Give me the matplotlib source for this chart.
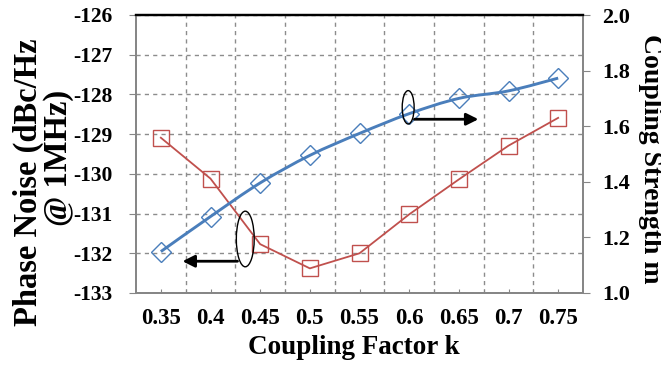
import numpy as np
import matplotlib
matplotlib.use("Agg")
import matplotlib.pyplot as plt
from matplotlib.path import Path
from matplotlib.patches import PathPatch, Ellipse

k_labels = ["0.35", "0.4", "0.45", "0.5", "0.55", "0.6", "0.65", "0.7", "0.75"]
phase_noise = [-129.09, -130.12, -131.77, -132.38, -132.0, -131.02, -130.14, -129.29, -128.59]
coupling_m = [1.149, 1.275, 1.396, 1.495, 1.574, 1.645, 1.70, 1.727, 1.773]

RED = "#C0504D"
BLUE = "#4A7EBB"
GRID = "#8C8C8C"
SP = "#868686"

plt.rcParams['font.family'] = ['Liberation Serif', 'DejaVu Serif']
plt.rcParams['font.weight'] = 'bold'

fig = plt.figure(figsize=(6.61, 3.66), dpi=100)
ax = fig.add_axes([136/661, 1-293/366, (583-136)/661, (293-15)/366])
ax2 = ax.twinx()

x = np.arange(len(k_labels))
ax.set_xlim(-0.5, len(k_labels)-0.5)
ax.set_ylim(-133, -126)
ax2.set_ylim(1.0, 2.0)

ax.set_xticks(x)
ax.set_xticks(np.arange(0.5, len(k_labels)-1, 1.0), minor=True)
ax.set_xticklabels(k_labels, fontsize=16.5, fontweight='bold')
ax.set_yticks(np.arange(-133, -125, 1))
ax.set_yticklabels([str(v) for v in range(-133, -125)], fontsize=15.5, fontweight='bold')
ax2.set_yticks(np.arange(1.0, 2.01, 0.2))
ax2.set_yticklabels([f"{v:.1f}" for v in np.arange(1.0, 2.01, 0.2)], fontsize=16, fontweight='bold')

ax.grid(False)
ax.xaxis.grid(True, which='minor', color=GRID, linestyle=(0, (3, 3)), linewidth=1)
ax.yaxis.grid(True, which='major', color=GRID, linestyle=(0, (3, 3)), linewidth=1)
ax.set_axisbelow(True)

ax.tick_params(axis='x', which='major', direction='in', length=3, color=SP, pad=11)
ax.tick_params(axis='x', which='minor', direction='in', length=3, color=SP)
ax.tick_params(axis='y', direction='out', length=5, color=SP, pad=12)
ax2.tick_params(axis='y', direction='out', length=5, color=SP, pad=9)

for s in ['left', 'bottom', 'right']:
    ax.spines[s].set_color(SP)
    ax.spines[s].set_linewidth(1.3)
    ax2.spines[s].set_color(SP)
    ax2.spines[s].set_linewidth(1.3)
ax.spines['top'].set_color('black')
ax.spines['top'].set_linewidth(1.6)
ax2.spines['top'].set_color('black')
ax2.spines['top'].set_linewidth(1.6)

# red line (phase noise, left axis)
ax.plot(x, phase_noise, color=RED, linewidth=1.3, marker='s', markersize=11,
        markerfacecolor='none', markeredgecolor=RED, markeredgewidth=1.0, zorder=3)

# blue smoothed line (coupling strength, right axis)
xs = list(x.astype(float))
ys = list(coupling_m)
verts = [(xs[0], ys[0])]
codes = [Path.MOVETO]
n = len(xs)
for i in range(n-1):
    p0 = (xs[i-1], ys[i-1]) if i > 0 else (xs[i], ys[i])
    p1 = (xs[i], ys[i])
    p2 = (xs[i+1], ys[i+1])
    p3 = (xs[i+2], ys[i+2]) if i+2 < n else (xs[i+1], ys[i+1])
    c1 = (p1[0] + (p2[0]-p0[0])/6, p1[1] + (p2[1]-p0[1])/6)
    c2 = (p2[0] - (p3[0]-p1[0])/6, p2[1] - (p3[1]-p1[1])/6)
    verts += [c1, c2, p2]
    codes += [Path.CURVE4]*3
ax2.add_patch(PathPatch(Path(verts, codes), facecolor='none', edgecolor=BLUE, linewidth=2.1, zorder=3))
ax2.plot(x, coupling_m, linestyle='none', marker='D', markersize=10.5,
         markerfacecolor='none', markeredgecolor=BLUE, markeredgewidth=1.0, zorder=4)

# annotations
ax.add_patch(Ellipse((1.70, -131.64), 0.36, 1.4, facecolor='none', edgecolor='black', linewidth=1.0, zorder=5))
ax.annotate("", xy=(0.38, -132.2), xytext=(1.60, -132.2),
            arrowprops=dict(arrowstyle='-|>', color='black', lw=2.0, mutation_scale=18), zorder=5)
ax2.add_patch(Ellipse((4.98, 1.668), 0.24, 0.12, facecolor='none', edgecolor='black', linewidth=1.0, zorder=5))
ax2.annotate("", xy=(6.45, 1.625), xytext=(5.05, 1.625),
             arrowprops=dict(arrowstyle='-|>', color='black', lw=2.0, mutation_scale=18), zorder=5)

# axis labels
fig.text(354/661, 1-348/366, "Coupling Factor k", ha='center', va='center', fontsize=19.5, fontweight='bold')
fig.text(28/661, 1-182/366, "Phase Noise (dBc/Hz", ha='center', va='center', rotation=90, fontsize=23.5, fontweight='bold')
fig.text(58/661, 1-158/366, "@ 1MHz)", ha='center', va='center', rotation=90, fontsize=23.5, fontweight='bold')
fig.text(650/661, 1-159/366, "Coupling Strength m", ha='center', va='center', rotation=-90, fontsize=20, fontweight='bold')

fig.savefig("out.png", dpi=100)
